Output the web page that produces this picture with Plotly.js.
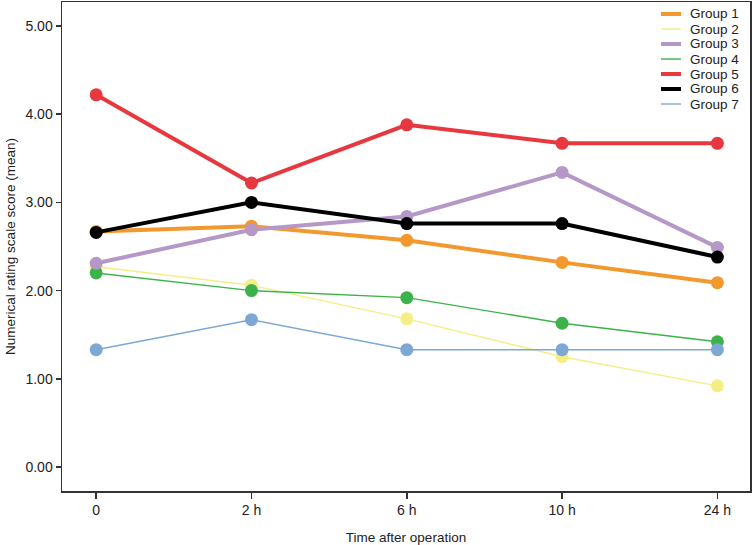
<!DOCTYPE html>
<html>
<head>
<meta charset="utf-8">
<script src="https://cdn.plot.ly/plotly-3.0.1.min.js"></script>
<style>html,body{margin:0;padding:0;background:#fff;}#chart{width:753px;height:545px;}</style>
</head>
<body>
<div id="chart"></div>
<script>
// Data
const times = ['0', '2 h', '6 h', '10 h', '24 h'];
const groupNames = ['Group 1', 'Group 2', 'Group 3', 'Group 4', 'Group 5', 'Group 6', 'Group 7'];
const group1 = [2.67, 2.73, 2.57, 2.32, 2.09];
const group2 = [2.27, 2.06, 1.68, 1.25, 0.92];
const group3 = [2.31, 2.69, 2.84, 3.34, 2.49];
const group4 = [2.20, 2.00, 1.92, 1.63, 1.42];
const group5 = [4.22, 3.22, 3.88, 3.67, 3.67];
const group6 = [2.66, 3.00, 2.76, 2.76, 2.38];
const group7 = [1.33, 1.67, 1.33, 1.33, 1.33];
const yTickVals = [0, 1, 2, 3, 4, 5];
const yTickText = ['0.00', '1.00', '2.00', '3.00', '4.00', '5.00'];

// Styles
const values = [group1, group2, group3, group4, group5, group6, group7];
const colors = ['#F3982D', '#F4EE86', '#B597C8', '#3BB34A', '#E8383F', '#000000', '#7DA8D6'];
const widths = [4, 1.4, 4, 1.4, 4, 4, 1.4];
const drawOrder = [1, 3, 6, 0, 2, 4, 5];
const FONT = 'Arial, "Liberation Sans", sans-serif';

const traces = drawOrder.map(i => ({
  type: 'scatter',
  mode: 'lines+markers',
  name: groupNames[i],
  x: times,
  y: values[i],
  line: {color: colors[i], width: widths[i]},
  marker: {color: colors[i], size: 13},
  showlegend: false
}));

// Custom legend (compact spacing like the reference)
const L = 62, R = 3, T = 2, B = 54, W = 753, H = 545;
const pw = W - L - R, ph = H - T - B;
const shapes = [], annotations = [];
groupNames.forEach((nm, i) => {
  const ypx = 14 + 15 * i;
  const yp = (H - B - ypx) / ph;
  shapes.push({type: 'line', xref: 'paper', yref: 'paper',
    x0: (661 - L) / pw, x1: (681 - L) / pw, y0: yp, y1: yp,
    line: {color: colors[i], width: widths[i]}});
  annotations.push({xref: 'paper', yref: 'paper', x: (688 - L) / pw, y: yp,
    xanchor: 'left', yanchor: 'middle', showarrow: false, text: nm,
    font: {family: FONT, size: 13.5, color: '#222'}});
});

const layout = {
  width: W, height: H,
  margin: {l: L, r: R, t: T, b: B},
  paper_bgcolor: '#fff', plot_bgcolor: '#fff',
  font: {family: FONT, size: 13, color: '#222'},
  xaxis: {
    type: 'category', range: [-0.22, 4.21],
    showgrid: false, zeroline: false,
    showline: true, linecolor: '#333', linewidth: 1.5, mirror: true,
    ticks: 'outside', ticklen: 6, tickwidth: 1.5, tickcolor: '#333',
    tickfont: {family: FONT, size: 14, color: '#222'},
    title: {text: 'Time after operation', standoff: 20, font: {family: FONT, size: 13.5, color: '#222'}}
  },
  yaxis: {
    range: [-0.272, 5.272],
    tickvals: yTickVals, ticktext: yTickText,
    showgrid: false, zeroline: false,
    showline: true, linecolor: '#333', linewidth: 1.5, mirror: true,
    ticks: 'outside', ticklen: 5, tickwidth: 1.5, tickcolor: '#333',
    tickfont: {family: FONT, size: 14, color: '#222'},
    title: {text: 'Numerical rating scale score (mean)', standoff: 6, font: {family: FONT, size: 13.5, color: '#222'}}
  },
  shapes: shapes,
  annotations: annotations,
  showlegend: false
};

Plotly.newPlot('chart', traces, layout, {displayModeBar: false, staticPlot: true});
</script>
</body>
</html>
